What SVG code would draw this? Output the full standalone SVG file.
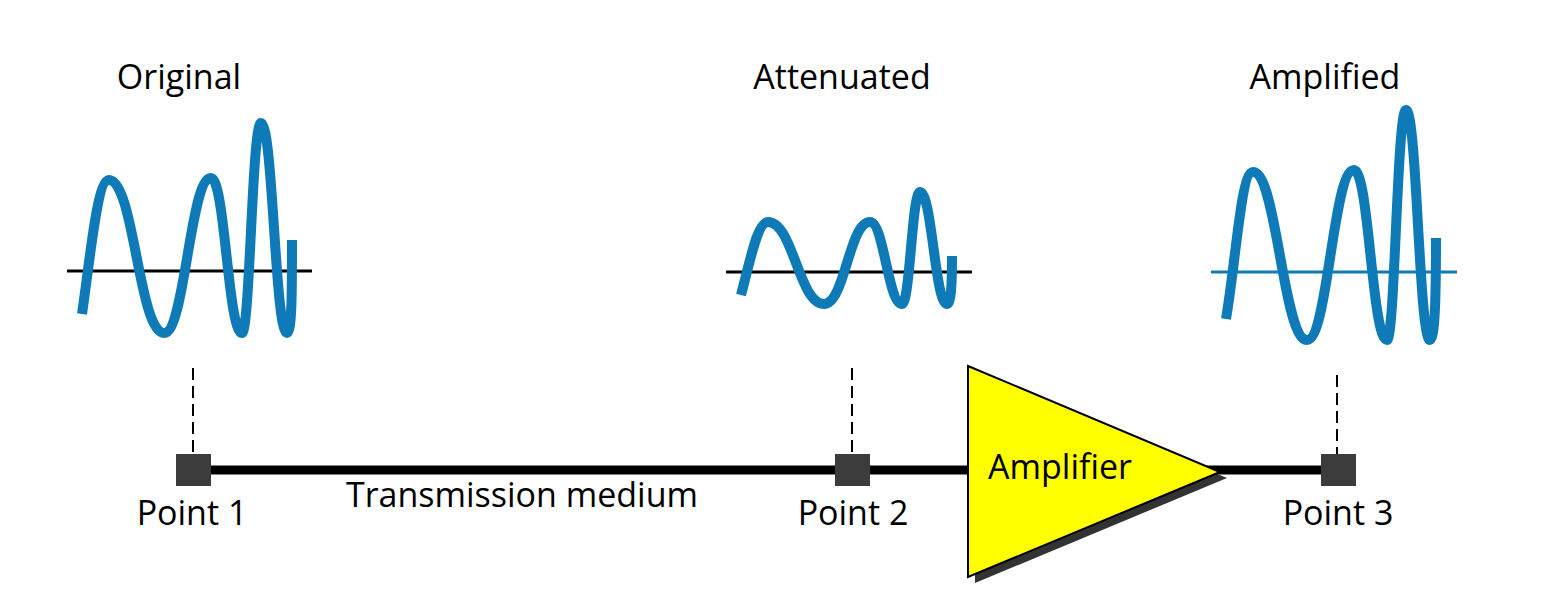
<svg xmlns="http://www.w3.org/2000/svg" width="1543" height="612" viewBox="0 0 1543 612">
<style>
.lbl{font-family:"Open Sans","Noto Sans","Liberation Sans",sans-serif;font-size:34px;fill:#000;text-anchor:middle}
.wave{fill:none;stroke:#0e7ab8;stroke-width:10;stroke-linecap:butt;stroke-linejoin:round}
.axis{stroke:#000;stroke-width:3}
.dash{stroke:#000;stroke-width:2;stroke-dasharray:12 6;fill:none}
.pt{fill:#3c3c3c}
.medium{stroke:#000;stroke-width:9}
</style>
<rect width="1543" height="612" fill="#fff"/>
<g id="connectors">
  <line class="medium" x1="193" y1="470" x2="1337" y2="470"/>
  <line class="dash" x1="193" y1="368" x2="193" y2="454"/>
  <line class="dash" x1="852" y1="368" x2="852" y2="454"/>
  <line class="dash" x1="1337" y1="375" x2="1337" y2="454"/>
</g>
<g id="wave-original">
  <line class="axis" x1="67" y1="271" x2="312" y2="271"/>
  <path class="wave" d="M82,314 C90,260 97,180 109,180 C134,180 139,333 164,333 C185,333 190,178 211,178 C225,178 228,333 242,333 C250,333 252,123 261,123 C273,123 275,333 287,333 C292,333 292,290 292,240"/>
  <text class="lbl" x="179" y="89">Original</text>
</g>
<g id="wave-attenuated">
  <line class="axis" x1="726" y1="272" x2="972" y2="272"/>
  <path class="wave" d="M741,295 C750,262 757,222 768,222 C793,222 799,304 824,304 C845,304 849,222 870,222 C884,222 888,304 902,304 C910,304 912,192 920,192 C932,192 935,304 947,304 C951,304 952,285 952,256"/>
  <text class="lbl" x="842" y="89">Attenuated</text>
</g>
<g id="wave-amplified">
  <line x1="1211" y1="272" x2="1457" y2="272" stroke="#0e7ab8" stroke-width="3"/>
  <path class="wave" d="M1226,319 C1236,260 1241,172 1253,172 C1277,172 1283,340 1307,340 C1328,340 1333,170 1354,170 C1369,170 1372,340 1387,340 C1395,340 1397,110 1406,110 C1417,110 1419,340 1430,340 C1435,340 1436,295 1436,238"/>
  <text class="lbl" x="1325" y="89">Amplified</text>
</g>
<g id="point1">
  <rect class="pt" x="176" y="454" width="35" height="32"/>
  <text class="lbl" x="192" y="525">Point 1</text>
</g>
<g id="transmission-medium">
  <text class="lbl" x="522" y="507">Transmission medium</text>
</g>
<g id="point2">
  <rect class="pt" x="835" y="454" width="35" height="32"/>
  <text class="lbl" x="853" y="525">Point 2</text>
</g>
<g id="amplifier">
  <polygon points="975,372 1227,478 975,583" fill="#333"/>
  <polygon points="968,366 1220,472 968,577" fill="#ffff00" stroke="#000" stroke-width="2" stroke-linejoin="miter"/>
  <text class="lbl" x="1060" y="479">Amplifier</text>
</g>
<g id="point3">
  <rect class="pt" x="1321" y="454" width="35" height="32"/>
  <text class="lbl" x="1338" y="525">Point 3</text>
</g>
</svg>
